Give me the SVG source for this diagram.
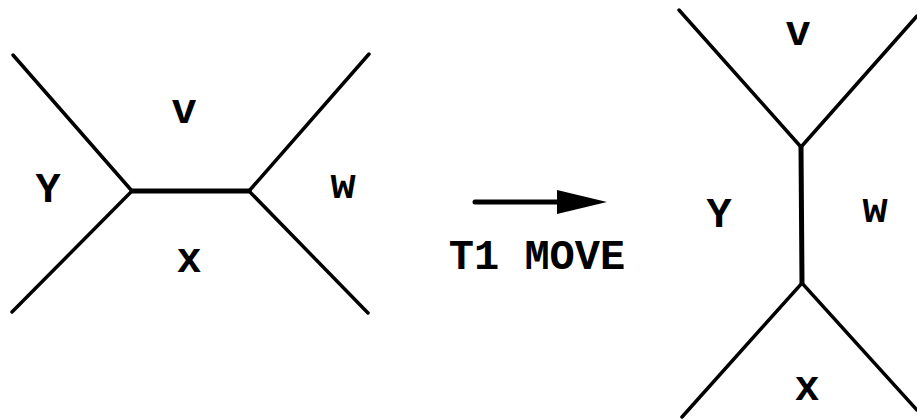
<svg xmlns="http://www.w3.org/2000/svg" width="917" height="420" viewBox="0 0 917 420">
<style>
.e{stroke:#000;stroke-width:3.5;fill:none;stroke-linecap:round}
.m{stroke:#000;stroke-width:5;fill:none;stroke-linecap:round}
.t{font-family:"Liberation Mono","Courier New",monospace;font-weight:bold;font-size:42px;fill:#000;text-anchor:middle}
</style>
<rect width="917" height="420" fill="#fff"/>
<g id="connectors">
<path class="e" d="M13,55 L132,191 L12,312"/>
<path class="m" d="M132,191 L249,191"/>
<path class="e" d="M369,54 L249,191 L368,313"/>
<path class="e" d="M679,10 L801,147 L917,16"/>
<path class="m" d="M801,147 L802,283"/>
<path class="e" d="M682,417 L802,283 L917,410"/>
<path d="M475,202 L560,202" stroke="#000" stroke-width="5" stroke-linecap="round"/>
<polygon points="557,190 607,202 557,214" fill="#000"/>
</g>
<g id="left">
<text class="t" x="184" y="123">v</text>
<text class="t" x="48" y="202">Y</text>
<text class="t" x="343" y="198">w</text>
<text class="t" x="189" y="272">x</text>
</g>
<g id="label">
<text class="t" x="537" y="269">T1 MOVE</text>
</g>
<g id="right">
<text class="t" x="798" y="45">v</text>
<text class="t" x="719" y="227">Y</text>
<text class="t" x="875" y="222">w</text>
<text class="t" x="807" y="400">x</text>
</g>
</svg>
